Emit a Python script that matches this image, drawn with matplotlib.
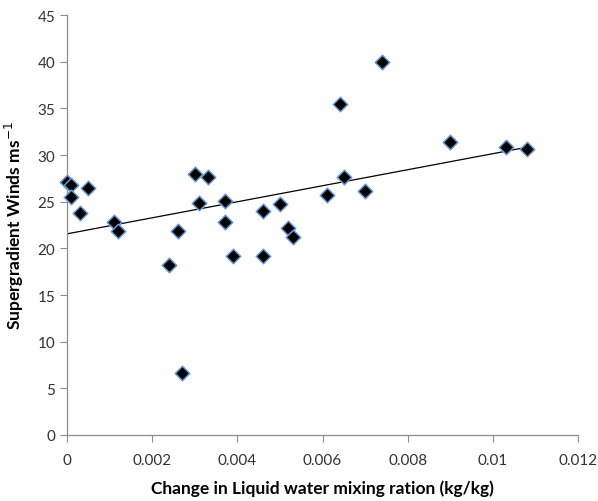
import numpy as np
import matplotlib.pyplot as plt

# Change in liquid water mixing ratio (kg/kg) and supergradient winds (m/s)
lwc_change = [0.0000, 0.0001, 0.0001, 0.0003, 0.0005, 0.0011, 0.0012, 0.0024,
              0.0026, 0.0027, 0.0030, 0.0031, 0.0033, 0.0037, 0.0037, 0.0039,
              0.0046, 0.0046, 0.0050, 0.0052, 0.0053, 0.0061, 0.0064, 0.0065,
              0.0070, 0.0074, 0.0090, 0.0103, 0.0108]
winds = [27.1, 26.8, 25.5, 23.8, 26.5, 22.8, 21.9, 18.2,
         21.9, 6.6, 28.0, 24.9, 27.7, 25.1, 22.8, 19.2,
         24.0, 19.2, 24.8, 22.2, 21.2, 25.7, 35.5, 27.7,
         26.1, 40.0, 31.4, 30.9, 30.6]

x_ticks = [0, 0.002, 0.004, 0.006, 0.008, 0.01, 0.012]
x_tick_labels = ['0', '0.002', '0.004', '0.006', '0.008', '0.01', '0.012']
y_ticks = [0, 5, 10, 15, 20, 25, 30, 35, 40, 45]

plt.rcParams['font.family'] = ['Lato', 'DejaVu Sans']

fig = plt.figure(figsize=(5.98, 5.02), dpi=100)
ax = fig.add_axes([0.112, 0.1315, 0.8546, 0.8365])

x = np.array(lwc_change)
y = np.array(winds)
ax.scatter(x, y, marker='D', s=55, color='black', edgecolors='#6a9ad6',
           linewidths=1.1, zorder=3, clip_on=False)

# linear trendline
slope, intercept = np.polyfit(x, y, 1)
xl = np.array([0, x.max()])
ax.plot(xl, slope * xl + intercept, color='black', lw=0.9, zorder=2)

ax.set_xlim(0, 0.012)
ax.set_ylim(0, 45)
ax.set_xticks(x_ticks)
ax.set_xticklabels(x_tick_labels)
ax.set_yticks(y_ticks)

for side in ['top', 'right']:
    ax.spines[side].set_visible(False)
for side in ['left', 'bottom']:
    ax.spines[side].set_color('#8c8c8c')
    ax.spines[side].set_linewidth(0.9)
ax.tick_params(direction='out', length=5, color='#8c8c8c', labelsize=11,
               labelcolor='#333333')
ax.tick_params(axis='x', pad=8)

ax.set_xlabel('Change in Liquid water mixing ration (kg/kg)', fontsize=12.5,
              fontweight='bold', labelpad=9)
ax.set_ylabel('Supergradient Winds ms$^{-1}$', fontsize=12.5,
              fontweight='bold', labelpad=8)

fig.savefig('out.png', dpi=100)
